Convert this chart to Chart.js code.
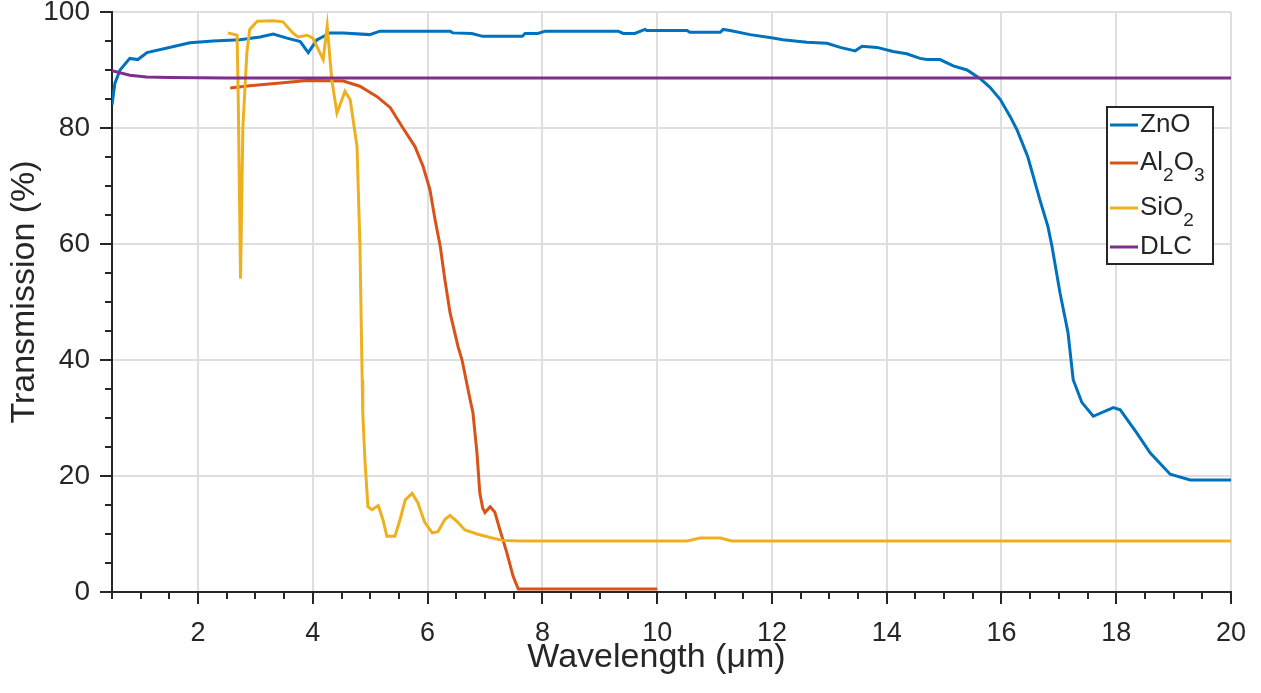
<!DOCTYPE html>
<html>
<head>
<meta charset="utf-8">
<script src="https://cdn.jsdelivr.net/npm/chart.js@4"></script>
<style>
  html, body { margin: 0; padding: 0; background: #fff; }
  #wrap { width: 1261px; height: 693px; }
</style>
</head>
<body>
<div id="wrap"><canvas id="transmission" width="1261" height="693"></canvas></div>
<script>
// wavelength (um) / transmission (%)
const znoX = [0.5, 0.55, 0.64, 0.81, 0.95, 1.11, 1.46, 1.86, 2.26, 2.73, 3.08, 3.31, 3.55, 3.78, 3.92, 4.07, 4.30, 4.53, 4.99, 5.17,
  6.39, 6.44, 6.77, 6.96, 7.65, 7.7, 7.92, 8.05, 9.32, 9.41, 9.61, 9.79, 9.82, 10.52, 10.57, 11.1, 11.15, 11.27, 11.62, 12.02,
  12.19, 12.61, 12.96, 13.19, 13.45, 13.57, 13.83, 14.11, 14.35, 14.58, 14.7, 14.93, 15.16, 15.4, 15.63, 15.8, 15.98, 16.15,
  16.27, 16.46, 16.67, 16.81, 16.88, 17.02, 17.16, 17.25, 17.4, 17.6, 17.95, 18.07, 18.36, 18.59, 18.94, 19.29, 20];
const znoY = [84, 87.7, 90, 92, 91.8, 93, 93.8, 94.7, 95, 95.2, 95.7, 96.2, 95.5, 94.9, 93, 95.2, 96.4, 96.4, 96.1, 96.7,
  96.7, 96.4, 96.3, 95.8, 95.8, 96.3, 96.3, 96.7, 96.7, 96.3, 96.3, 97, 96.8, 96.8, 96.5, 96.5, 97, 96.8, 96.1, 95.5,
  95.2, 94.8, 94.6, 93.9, 93.3, 94.1, 93.9, 93.2, 92.8, 92, 91.8, 91.8, 90.7, 90, 88.5, 87, 84.9, 82,
  79.7, 75, 67.6, 63, 59.6, 51.6, 44.7, 36.6, 32.7, 30.3, 31.8, 31.4, 27.4, 24, 20.3, 19.3, 19.3];

const alX = [2.56, 2.9, 3.48, 3.9, 4.53, 4.82, 5.12, 5.35, 5.57, 5.78, 5.92, 6.04, 6.13, 6.22, 6.30, 6.39, 6.53, 6.6, 6.74,
  6.79, 6.86, 6.91, 6.96, 7.0, 7.09, 7.17, 7.26, 7.38, 7.49, 7.58, 10];
const alY = [86.9, 87.3, 87.8, 88.2, 88.1, 87.2, 85.4, 83.5, 80, 76.8, 73.4, 69.4, 64.2, 59.6, 53.9, 48.2, 42.3, 40, 33.2,
  30.9, 24, 17, 14.5, 13.7, 14.7, 13.8, 10.7, 6.8, 2.7, 0.5, 0.5];

const siX = [2.52, 2.68, 2.70, 2.74, 2.78, 2.85, 2.9, 3.03, 3.31, 3.48, 3.65, 3.74, 3.9, 4.0, 4.18, 4.25, 4.33, 4.42, 4.56,
  4.65, 4.77, 4.82, 4.86, 4.87, 4.91, 4.96, 5.03, 5.14, 5.22, 5.29, 5.43, 5.52, 5.61, 5.73, 5.83, 5.95, 6.08, 6.18, 6.3,
  6.39, 6.51, 6.65, 6.86, 7.09, 7.31, 7.6, 10.52, 10.75, 11.1, 11.3, 20];
const siY = [96.4, 96, 85, 54, 80, 93, 97, 98.4, 98.5, 98.3, 96.4, 95.7, 96, 95.5, 91.8, 97.6, 88.3, 82.6, 86.3,
  84.9, 76.8, 60, 36.6, 30.9, 22.3, 14.7, 14.2, 14.9, 12.5, 9.6, 9.6, 12.5, 15.9, 17, 15.4, 12, 10.2, 10.4, 12.5,
  13.2, 12.2, 10.7, 10, 9.4, 8.9, 8.8, 8.8, 9.3, 9.3, 8.8, 8.8];

const dlcX = [0.5, 0.81, 1.1, 1.5, 2.5, 20];
const dlcY = [89.9, 89.1, 88.8, 88.7, 88.6, 88.6];

const xTickValues = [2, 4, 6, 8, 10, 12, 14, 16, 18, 20];
const yTickValues = [0, 20, 40, 60, 80, 100];

const xTitle = 'Wavelength (\u03bcm)';
const yTitle = 'Transmission (%)';

// legend labels: [text, isSubscript]
const legendLabels = [
  [['ZnO', false]],
  [['Al', false], ['2', true], ['O', false], ['3', true]],
  [['SiO', false], ['2', true]],
  [['DLC', false]]
];
const seriesColors = ['#0072BD', '#D95319', '#EDB120', '#7E2F8E'];

const FONT = '"Liberation Sans", Arial, Helvetica, sans-serif';
const INK = '#262626';
const GRID = '#dedede';

const toPoints = (xs, ys) => xs.map((x, i) => ({ x: x, y: ys[i] }));

// later series on top, like matlab
const makeSet = (label, xs, ys, i) => ({
  label: label,
  data: toPoints(xs, ys),
  borderColor: seriesColors[i],
  borderWidth: 3,
  pointRadius: 0,
  tension: 0,
  fill: false,
  order: 4 - i
});

const axisDecor = {
  id: 'axisDecor',
  afterDraw(chart) {
    const { ctx, chartArea: a, scales: { x, y } } = chart;
    ctx.save();
    ctx.strokeStyle = INK;
    ctx.lineWidth = 2;
    ctx.beginPath();
    // x ticks every 0.5, longer on labelled ones
    for (let v = 0.5; v <= 20.001; v += 0.5) {
      const px = Math.round(x.getPixelForValue(v));
      const len = xTickValues.includes(v) ? 12 : 7;
      ctx.moveTo(px, a.bottom);
      ctx.lineTo(px, a.bottom + len);
    }
    // y ticks every 5
    for (let v = 0; v <= 100; v += 5) {
      const py = Math.round(y.getPixelForValue(v));
      const len = yTickValues.includes(v) ? 12 : 7;
      ctx.moveTo(a.left, py);
      ctx.lineTo(a.left - len, py);
    }
    ctx.stroke();

    // axis titles (matlab puts them a bit off centre)
    ctx.fillStyle = INK;
    ctx.font = '34px ' + FONT;
    ctx.textAlign = 'center';
    ctx.textBaseline = 'middle';
    ctx.fillText(xTitle, (a.left + a.right) / 2 - 15, a.bottom + 66);
    ctx.save();
    ctx.translate(25, (a.top + a.bottom) / 2 - 10);
    ctx.rotate(-Math.PI / 2);
    ctx.fillText(yTitle, 0, 0);
    ctx.restore();

    // legend box
    const bw = 106, bh = 157;
    const bx = a.right - 18 - bw, by = a.top + 95;
    ctx.fillStyle = '#fff';
    ctx.fillRect(bx, by, bw, bh);
    ctx.lineWidth = 2;
    ctx.strokeStyle = INK;
    ctx.strokeRect(bx, by, bw, bh);
    const rows = [18, 56, 101, 140];
    ctx.textBaseline = 'middle';
    ctx.textAlign = 'left';
    legendLabels.forEach((parts, i) => {
      const cy = by + rows[i];
      ctx.strokeStyle = seriesColors[i];
      ctx.lineWidth = 3;
      ctx.beginPath();
      ctx.moveTo(bx + 3, cy);
      ctx.lineTo(bx + 31, cy);
      ctx.stroke();
      let tx = bx + 33;
      ctx.fillStyle = INK;
      parts.forEach(([t, sub]) => {
        ctx.font = (sub ? '19px ' : '26px ') + FONT;
        ctx.fillText(t, tx, sub ? cy + 13 : cy);
        tx += ctx.measureText(t).width;
      });
    });
    ctx.restore();
  }
};

const ctx = document.getElementById('transmission').getContext('2d');
const chart = new Chart(ctx, {
  type: 'line',
  data: {
    datasets: [
      makeSet('ZnO', znoX, znoY, 0),
      makeSet('Al2O3', alX, alY, 1),
      makeSet('SiO2', siX, siY, 2),
      makeSet('DLC', dlcX, dlcY, 3)
    ]
  },
  options: {
    responsive: false,
    animation: false,
    layout: { padding: { top: 12, right: 30, left: 0, bottom: 0 } },
    plugins: { legend: { display: false }, tooltip: { enabled: false } },
    scales: {
      x: {
        type: 'linear',
        min: 0.5,
        max: 20,
        afterBuildTicks: (s) => { s.ticks = xTickValues.map((v) => ({ value: v })); },
        afterFit: (s) => { s.height = 101; s.paddingLeft = 0; s.paddingRight = 0; },
        grid: { color: GRID, lineWidth: 2, drawTicks: false },
        border: { display: true, color: INK, width: 2 },
        ticks: { color: INK, padding: 25, maxRotation: 0, font: { family: FONT, size: 27 } },
        title: { display: false }
      },
      y: {
        min: 0,
        max: 100,
        afterBuildTicks: (s) => { s.ticks = yTickValues.map((v) => ({ value: v })); },
        afterFit: (s) => { s.width = 112; s.paddingTop = 0; s.paddingBottom = 0; },
        grid: { color: GRID, lineWidth: 2, drawTicks: false },
        border: { display: true, color: INK, width: 2 },
        ticks: { color: INK, padding: 22, font: { family: FONT, size: 28 } },
        title: { display: false }
      }
    }
  },
  plugins: [axisDecor]
});
</script>
</body>
</html>
